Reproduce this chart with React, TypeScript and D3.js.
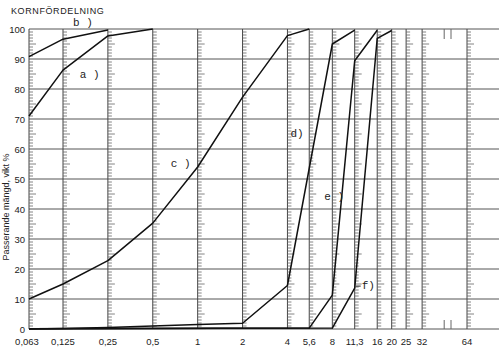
import React from "react";
import * as d3 from "d3";

// sieve sizes (mm) with their printed labels
const sieves = [0.063, 0.125, 0.25, 0.5, 1, 2, 4, 5.6, 8, 11.3, 16, 20, 25, 32, 64];
const sieveLabels = ["0,063", "0,125", "0,25", "0,5", "1", "2", "4", "5,6", "8", "11,3", "16", "20", "25", "32", "64"];
const extraMarks = [45, 50];
const yTicks = [0, 10, 20, 30, 40, 50, 60, 70, 80, 90, 100];

// passing percentage per curve, [size, %]
const curveA: [number, number][] = [[0.063, 71], [0.125, 86.3], [0.25, 97.7], [0.5, 100]];
const curveB: [number, number][] = [[0.063, 90.8], [0.125, 96.6], [0.25, 99.7]];
const curveC: [number, number][] = [[0.063, 10], [0.125, 15], [0.25, 22.8], [0.5, 35.3], [1, 54], [2, 77.3], [4, 97.8], [5.6, 100]];
const curveD: [number, number][] = [[0.063, 0], [0.125, 0.2], [0.25, 0.5], [0.5, 1], [1, 1.5], [2, 1.9], [4, 14.5], [8, 95], [11.3, 99.6]];
const curveE: [number, number][] = [[0.063, 0.1], [5.6, 0.3], [8, 11.3], [11.3, 89.4], [16, 99.6]];
const curveF: [number, number][] = [[0.063, 0.1], [8, 0.3], [11.3, 13.6], [16, 96.9], [20, 99.5]];

const curves = [curveA, curveB, curveC, curveD, curveE, curveF];
const curveNames = ["a )", "b )", "c )", "d)", "e )", "f)"];
const labelAt: [number, number][] = [[0.162, 84.7], [0.146, 102], [0.66, 55], [4.19, 65], [7.06, 44], [12.6, 14.3]];

export default function App() {
  const width = 500;
  const height = 352;
  const left = 29;
  const right = 499;
  const top = 29;
  const bottom = 329;

  // sieve charts compress the first interval, so the scale is piecewise
  const x = d3.scaleLog().domain([0.063, 0.125, 64, 128]).range([left, 63, 467, 467 + 44.9]);
  const y = d3.scaleLinear().domain([0, 100]).range([bottom, top]);

  const line = d3
    .line<[number, number]>()
    .x((d) => x(d[0]))
    .y((d) => y(d[1]));

  const minor = d3.range(1, 100).filter((v) => v % 10 !== 0);

  return (
    <svg
      width={width}
      height={height}
      style={{ position: "absolute", left: 0, top: 0, background: "#fff" }}
      fontFamily="Liberation Sans, Arial, sans-serif"
    >
      <text x={11} y={14} fontSize={9} letterSpacing={0.6} fill="#222">
        KORNFÖRDELNING
      </text>

      {/* horizontal grid */}
      {yTicks.map((t) => (
        <line key={"h" + t} x1={left} x2={right} y1={y(t)} y2={y(t)} stroke="#555" strokeWidth={1} />
      ))}

      {/* vertical sieve lines with ruler dashes */}
      {sieves.map((s) => (
        <g key={"v" + s}>
          <line x1={x(s)} x2={x(s)} y1={top} y2={bottom} stroke="#444" strokeWidth={1} />
          {minor.map((m) => (
            <line
              key={m}
              x1={x(s)}
              x2={x(s) + (m % 5 === 0 ? 7 : 4)}
              y1={y(m)}
              y2={y(m)}
              stroke="#666"
              strokeWidth={0.8}
            />
          ))}
        </g>
      ))}

      {extraMarks.map((s) => (
        <g key={"e" + s}>
          <line x1={x(s)} x2={x(s)} y1={top} y2={top + 10} stroke="#666" />
          <line x1={x(s)} x2={x(s)} y1={bottom - 9} y2={bottom} stroke="#666" />
        </g>
      ))}

      {/* y labels */}
      {yTicks.map((t) => (
        <text key={"yl" + t} x={25} y={y(t) + 3.5} fontSize={9.5} textAnchor="end" fill="#222">
          {t}
        </text>
      ))}

      {/* x labels */}
      {sieves.map((s, i) => (
        <text key={"xl" + s} x={x(s) - (i === 0 ? 2 : 0)} y={345} fontSize={9.5} textAnchor="middle" fill="#222">
          {sieveLabels[i]}
        </text>
      ))}

      <text
        transform={`translate(9,${(top + bottom) / 2 + 28}) rotate(-90)`}
        fontSize={9}
        textAnchor="middle"
        fill="#222"
      >
        Passerande mängd, vikt %
      </text>

      {/* curves */}
      {curves.map((c, i) => (
        <path key={"c" + i} d={line(c) || ""} fill="none" stroke="#111" strokeWidth={1.5} strokeLinejoin="round" />
      ))}

      {/* leader for f */}
      <line x1={x(11.3) + 1} x2={x(11.3) + 6} y1={y(14.3)} y2={y(14.3)} stroke="#222" strokeWidth={1} />

      {curveNames.map((n, i) => (
        <text
          key={"n" + i}
          x={x(labelAt[i][0])}
          y={y(labelAt[i][1])}
          dominantBaseline="middle"
          fontSize={11}
          fontFamily="Liberation Mono, DejaVu Sans Mono, monospace"
          fill="#222"
        >
          {n}
        </text>
      ))}
    </svg>
  );
}
